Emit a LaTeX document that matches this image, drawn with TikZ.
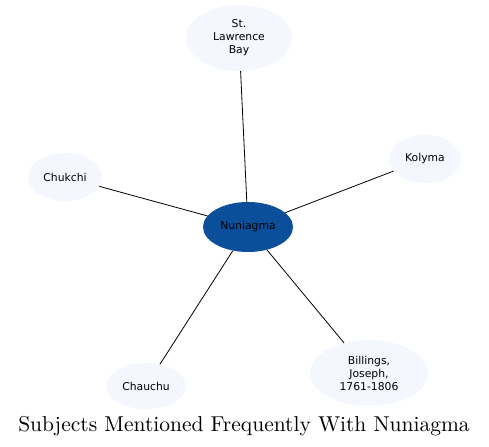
\documentclass[tikz,border=0pt]{standalone}
\usepackage{fontspec}
\newfontfamily\labelfont{DejaVu Sans}
\newfontfamily\titlefont{lmroman10-regular.otf}
\usetikzlibrary{shapes.geometric}
\definecolor{hubblue}{HTML}{0B4F9B}
\definecolor{leafblue}{HTML}{F4F8FE}

\begin{document}
\begin{tikzpicture}[
  x=1bp,y=-1bp,
  leaf/.style={ellipse,fill=leafblue,draw=none,align=center,inner sep=0pt,
    font=\labelfont\fontsize{10.8bp}{13bp}\selectfont},
  hub/.style={leaf,fill=hubblue},
  link/.style={draw=black,line width=0.8bp}
]
\useasboundingbox (0,0) rectangle (489,447);
\node[hub,minimum width=90bp,minimum height=50bp] (nuniagma) at (248,227) {Nuniagma};
\node[leaf,minimum width=106bp,minimum height=66bp] (stlawrence) at (239,38) {St.\\Lawrence\\Bay};
\node[leaf,minimum width=72bp,minimum height=48bp] (kolyma) at (425,159) {Kolyma};
\node[leaf,minimum width=74bp,minimum height=48bp] (chukchi) at (65,177) {Chukchi};
\node[leaf,minimum width=80bp,minimum height=46bp] (chauchu) at (146,386) {Chauchu};
\node[leaf,minimum width=118bp,minimum height=66bp] (billings) at (369,373) {Billings,\\Joseph,\\1761-1806};
\draw[link] (nuniagma) -- (stlawrence);
\draw[link] (nuniagma) -- (kolyma);
\draw[link] (nuniagma) -- (chukchi);
\draw[link] (nuniagma) -- (chauchu);
\draw[link] (nuniagma) -- (billings);
\node[font=\titlefont\fontsize{21.5bp}{24bp}\selectfont] (title) at (244,426) {Subjects Mentioned Frequently With Nuniagma};
\end{tikzpicture}
\end{document}
